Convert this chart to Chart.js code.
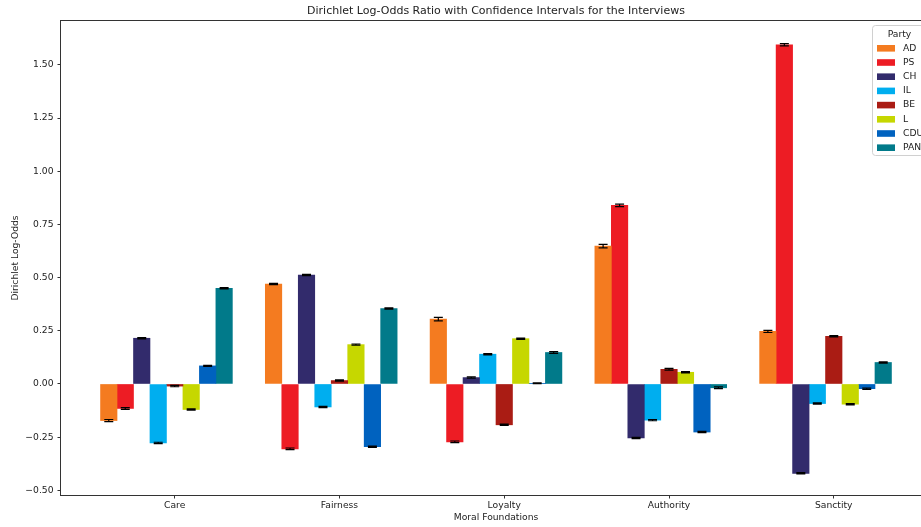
<!DOCTYPE html>
<html>
<head>
<meta charset="utf-8">
<script src="https://cdn.jsdelivr.net/npm/chart.js@4.4.1/dist/chart.umd.min.js"></script>
<style>
html, body { margin: 0; padding: 0; overflow: hidden; background: #fff; }
#chart { display: block; }
</style>
</head>
<body>
<canvas id="chart" width="960" height="527"></canvas>
<script>
const foundations = ['Care', 'Fairness', 'Loyalty', 'Authority', 'Sanctity'];
const parties = ['AD', 'PS', 'CH', 'IL', 'BE', 'L', 'CDU', 'PAN'];

// log-odds per foundation (Care, Fairness, Loyalty, Authority, Sanctity)
const valuesAD  = [-0.172, 0.470, 0.305, 0.648, 0.247];
const valuesPS  = [-0.115, -0.305, -0.272, 0.840, 1.595];
const valuesCH  = [0.215, 0.512, 0.030, -0.254, -0.420];
const valuesIL  = [-0.277, -0.108, 0.140, -0.170, -0.092];
const valuesBE  = [-0.010, 0.016, -0.192, 0.069, 0.224];
const valuesL   = [-0.120, 0.185, 0.213, 0.055, -0.095];
const valuesCDU = [0.085, -0.295, 0.003, -0.226, -0.022];
const valuesPAN = [0.450, 0.355, 0.148, -0.018, 0.101];

// confidence interval half widths
const errAD  = [0.005, 0.003, 0.008, 0.008, 0.005];
const errPS  = [0.004, 0.004, 0.004, 0.006, 0.005];
const errCH  = [0.003, 0.003, 0.003, 0.003, 0.003];
const errIL  = [0.003, 0.003, 0.003, 0.003, 0.003];
const errBE  = [0.003, 0.003, 0.003, 0.004, 0.003];
const errL   = [0.003, 0.003, 0.003, 0.003, 0.003];
const errCDU = [0.002, 0.003, 0.002, 0.003, 0.003];
const errPAN = [0.003, 0.003, 0.004, 0.004, 0.003];

const yTicks = [-0.5, -0.25, 0, 0.25, 0.5, 0.75, 1.0, 1.25, 1.5];

const partyColors = ['#F47B20', '#ED1C24', '#322B6C', '#00AEEF', '#AA1C14', '#C6D700', '#0062BF', '#017A8A'];

const FONT = '"DejaVu Sans", sans-serif';
const TEXT = '#222';
const barWidth = 0.1; // width of one bar in category units

const partyValues = [valuesAD, valuesPS, valuesCH, valuesIL, valuesBE, valuesL, valuesCDU, valuesPAN];
const partyErrors = [errAD, errPS, errCH, errIL, errBE, errL, errCDU, errPAN];

const datasets = parties.map((p, j) => ({
    label: p,
    data: partyValues[j].map((v, i) => ({ x: i + (j - 4) * barWidth, y: v })),
    errors: partyErrors[j],
    backgroundColor: partyColors[j],
    borderWidth: 0,
    grouped: false,
    barPercentage: 1,
    categoryPercentage: 1
}));

function fmtTick(v) {
    return v.toFixed(2).replace('-', '\u2212');
}

// error bars with caps
const errorBarPlugin = {
    id: 'errorBars',
    afterDatasetsDraw(chart) {
        const ctx = chart.ctx;
        const yScale = chart.scales.y;
        ctx.save();
        ctx.strokeStyle = '#000';
        ctx.lineWidth = 1.2;
        chart.data.datasets.forEach((ds, j) => {
            const meta = chart.getDatasetMeta(j);
            meta.data.forEach((bar, i) => {
                const v = ds.data[i].y;
                const e = ds.errors[i];
                const top = yScale.getPixelForValue(v + e);
                const bottom = yScale.getPixelForValue(v - e);
                ctx.beginPath();
                ctx.moveTo(bar.x, top);
                ctx.lineTo(bar.x, bottom);
                ctx.moveTo(bar.x - 4.5, top);
                ctx.lineTo(bar.x + 4.5, top);
                ctx.moveTo(bar.x - 4.5, bottom);
                ctx.lineTo(bar.x + 4.5, bottom);
                ctx.stroke();
            });
        });
        ctx.restore();
    }
};

// spines, title and legend
const decorPlugin = {
    id: 'decor',
    afterDraw(chart) {
        const ctx = chart.ctx;
        const a = chart.chartArea;
        ctx.save();
        ctx.strokeStyle = '#333';
        ctx.lineWidth = 1;
        ctx.strokeRect(a.left - 0.5, a.top - 0.5, a.right - a.left + 1, a.bottom - a.top + 1);

        ctx.fillStyle = TEXT;
        ctx.font = '11px ' + FONT;
        ctx.textAlign = 'center';
        ctx.textBaseline = 'middle';
        ctx.fillText('Dirichlet Log-Odds Ratio with Confidence Intervals for the Interviews', (a.left + a.right) / 2, 11.5);

        // legend box
        const lx = 872.5, ly = 25.5, lw = 54, lh = 130, r = 3;
        ctx.beginPath();
        ctx.moveTo(lx + r, ly);
        ctx.lineTo(lx + lw - r, ly);
        ctx.quadraticCurveTo(lx + lw, ly, lx + lw, ly + r);
        ctx.lineTo(lx + lw, ly + lh - r);
        ctx.quadraticCurveTo(lx + lw, ly + lh, lx + lw - r, ly + lh);
        ctx.lineTo(lx + r, ly + lh);
        ctx.quadraticCurveTo(lx, ly + lh, lx, ly + lh - r);
        ctx.lineTo(lx, ly + r);
        ctx.quadraticCurveTo(lx, ly, lx + r, ly);
        ctx.closePath();
        ctx.fillStyle = 'rgba(255,255,255,0.8)';
        ctx.fill();
        ctx.strokeStyle = '#d0d0d0';
        ctx.stroke();

        ctx.font = '9.2px ' + FONT;
        ctx.fillStyle = TEXT;
        ctx.textAlign = 'center';
        ctx.fillText('Party', lx + lw / 2, 35);
        ctx.textAlign = 'left';
        chart.data.datasets.forEach((ds, j) => {
            const cy = 48.3 + j * 14.2;
            ctx.fillStyle = ds.backgroundColor;
            ctx.fillRect(877, cy - 3.3, 18, 6.6);
            ctx.fillStyle = TEXT;
            ctx.fillText(ds.label, 903, cy);
        });
        ctx.restore();
    }
};

new Chart(document.getElementById('chart').getContext('2d'), {
    type: 'bar',
    data: { datasets: datasets },
    options: {
        responsive: false,
        animation: false,
        layout: { padding: { top: 21, right: 29, bottom: 0, left: 0 } },
        plugins: {
            legend: { display: false },
            title: { display: false },
            tooltip: { enabled: false }
        },
        scales: {
            x: {
                type: 'linear',
                min: -0.69,
                max: 4.59,
                offset: false,
                afterBuildTicks: s => { s.ticks = foundations.map((_, i) => ({ value: i })); },
                afterFit: s => { s.height = 32; },
                border: { display: false },
                grid: { offset: false, drawOnChartArea: false, drawTicks: true, tickLength: 3.5, color: '#333' },
                ticks: {
                    padding: 1.5,
                    maxRotation: 0,
                    autoSkip: false,
                    color: TEXT,
                    font: { family: FONT, size: 9.2 },
                    callback: v => foundations[Math.round(v)] || ''
                },
                title: {
                    display: true,
                    text: 'Moral Foundations',
                    color: TEXT,
                    font: { family: FONT, size: 9.2 },
                    padding: { top: 0, bottom: 3.5 }
                }
            },
            y: {
                min: -0.522,
                max: 1.7066,
                afterBuildTicks: s => { s.ticks = yTicks.map(v => ({ value: v })); },
                afterFit: s => { s.width = 61; },
                border: { display: false },
                grid: { drawOnChartArea: false, drawTicks: true, tickLength: 3.5, color: '#333' },
                ticks: {
                    padding: 4,
                    color: TEXT,
                    font: { family: FONT, size: 9.2 },
                    callback: v => fmtTick(v)
                },
                title: {
                    display: true,
                    text: 'Dirichlet Log-Odds',
                    color: TEXT,
                    font: { family: FONT, size: 9.2 },
                    padding: { top: 10.5, bottom: 0 }
                }
            }
        }
    },
    plugins: [errorBarPlugin, decorPlugin]
});
</script>
</body>
</html>
